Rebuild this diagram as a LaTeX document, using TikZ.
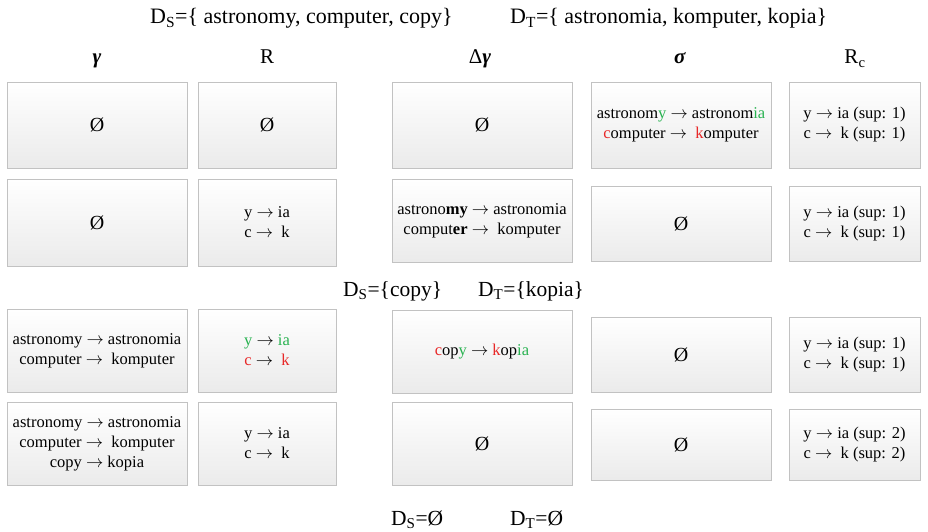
\documentclass[tikz,border=0pt]{standalone}
\usepackage{fontspec}
\setmainfont{Liberation Serif}
\usetikzlibrary{shadows}
\definecolor{okgreen}{RGB}{40,178,80}
\definecolor{errred}{RGB}{232,40,40}
\newcommand{\G}[1]{\textcolor{okgreen}{#1}}
\newcommand{\Rd}[1]{\textcolor{errred}{#1}}
\newcommand{\es}{{\fontsize{20}{20}\selectfont Ø}}
\newcommand{\ar}{\ensuremath{\rightarrow}}
\tikzset{
  cell/.style={draw=black!24, line width=0.6pt, top color=white, bottom color=black!8,
    inner sep=0pt, align=center, font=\fontsize{16.5}{20}\selectfont,
    drop shadow={shadow xshift=0.8pt, shadow yshift=-0.8pt, fill=black!12, opacity=0.8}},
  hdr/.style={anchor=base, font=\fontsize{21}{22}\selectfont, inner sep=0pt},
  dom/.style={anchor=base west, font=\fontsize{22}{24}\selectfont, inner sep=0pt},
  domm/.style={anchor=base west, font=\fontsize{21.5}{24}\selectfont, inner sep=0pt},
  cA/.style={minimum width=180},
  cB/.style={minimum width=138},
  cE/.style={minimum width=131},
}
\begin{document}
\begin{tikzpicture}[x=1pt,y=-1pt]
\useasboundingbox[fill=white] (0,0) rectangle (928,532);
% top domain line
\node[dom] (ds0) at (150,24) {D\textsubscript{S}=\{ astronomy, computer, copy\}};
\node[dom] (dt0) at (510,24) {D\textsubscript{T}=\{ astronomia, komputer, kopia\}};
% headers
\node[hdr] (h1) at (97,64) {\textbf{\textit{γ}}};
\node[hdr] (h2) at (267,64) {R};
\node[hdr] (h3) at (480,64) {Δ\textbf{\textit{γ}}};
\node[hdr] (h4) at (680,64) {\textbf{\textit{σ}}};
\node[hdr] (h5) at (855,64) {R\textsubscript{c}};
% row 1
\node[cell, cA, minimum height=86] (a1) at (97,125) {\es};
\node[cell, cB, minimum height=86] (b1) at (267,125) {\es};
\node[cell, cA, minimum height=86] (c1) at (482,125) {\es};
\node[cell, cA, minimum height=86] (d1) at (681,125) {astronom\G{y} \ar{} astronom\G{ia}\\\Rd{c}omputer \ar\ \ \Rd{k}omputer};
\node[cell, cE, minimum height=86] (e1) at (854.5,125) {y \ar{} ia (sup: 1)\\c \ar\ \ k (sup: 1)};
% row 2
\node[cell, cA, minimum height=87] (a2) at (97,222.5) {\es};
\node[cell, cB, minimum height=87] (b2) at (267,222.5) {y \ar{} ia\\c \ar\ \ k};
\node[cell, cA, minimum height=83] (c2) at (482,220.5) {astrono\textbf{my} \ar{} astronomia\\comput\textbf{er} \ar\ \ komputer};
\node[cell, cA, minimum height=75] (d2) at (681,223.5) {\es};
\node[cell, cE, minimum height=75] (e2) at (854.5,223.5) {y \ar{} ia (sup: 1)\\c \ar\ \ k (sup: 1)};
% middle domain line
\node[domm] (ds1) at (343,296) {D\textsubscript{S}=\{copy\}};
\node[domm] (dt1) at (478,296) {D\textsubscript{T}=\{kopia\}};
% row 3
\node[cell, cA, minimum height=83] (a3) at (97,350.5) {astronomy \ar{} astronomia\\computer \ar\ \ komputer};
\node[cell, cB, minimum height=83] (b3) at (267,350.5) {\G{y} \ar{} \G{ia}\\\Rd{c} \ar\ \ \Rd{k}};
\node[cell, cA, minimum height=83] (c3) at (482,351.5) {\Rd{c}op\G{y} \ar{} \Rd{k}op\G{ia}};
\node[cell, cA, minimum height=75] (d3) at (681,354.5) {\es};
\node[cell, cE, minimum height=75] (e3) at (854.5,354.5) {y \ar{} ia (sup: 1)\\c \ar\ \ k (sup: 1)};
% row 4
\node[cell, cA, minimum height=83] (a4) at (97,443.5) {astronomy \ar{} astronomia\\computer \ar\ \ komputer\\copy \ar{} kopia};
\node[cell, cB, minimum height=83] (b4) at (267,443.5) {y \ar{} ia\\c \ar\ \ k};
\node[cell, cA, minimum height=83] (c4) at (482,443.5) {\es};
\node[cell, cA, minimum height=71] (d4) at (681,444.5) {\es};
\node[cell, cE, minimum height=71] (e4) at (854.5,444.5) {y \ar{} ia (sup: 2)\\c \ar\ \ k (sup: 2)};
% bottom domain line
\node[domm] (ds2) at (391,525) {D\textsubscript{S}=Ø};
\node[domm] (dt2) at (510,525) {D\textsubscript{T}=Ø};
\end{tikzpicture}
\end{document}
